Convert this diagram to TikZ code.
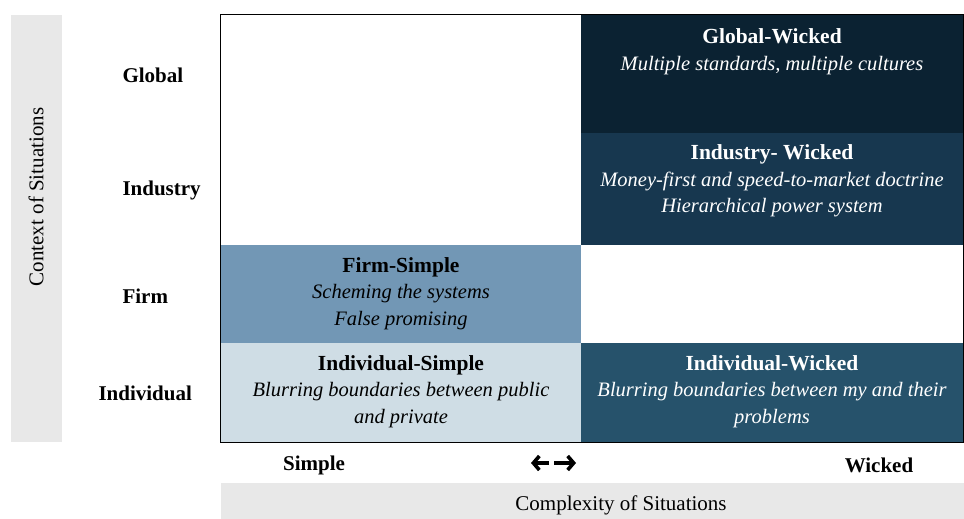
\documentclass[tikz,border=0pt]{standalone}
\usepackage{fontspec}
\setmainfont{Liberation Serif}
\usetikzlibrary{arrows.meta}
\definecolor{gwcol}{HTML}{0B2232}
\definecolor{iwcol}{HTML}{17374F}
\definecolor{fscol}{HTML}{7297B5}
\definecolor{iscol}{HTML}{CFDDE5}
\definecolor{ivcol}{HTML}{26526B}
\definecolor{barcol}{HTML}{E8E8E8}
\newcommand{\celltitle}[1]{{\fontsize{21.5}{26.5}\selectfont\upshape\bfseries #1}}
\begin{document}
\begin{tikzpicture}[x=1pt, y=-1pt]
\tikzstyle{cell} = [inner sep=0, outer sep=0, minimum height=0pt];
\tikzstyle{celltext} = [align=center, font=\fontsize{20.5}{26.5}\selectfont\itshape];
\tikzstyle{rowlabel} = [anchor=west, font=\fontsize{21}{24}\selectfont\bfseries];
\tikzstyle{axis} = [font=\fontsize{21}{24}\selectfont];
\tikzstyle{arr} = [line width=3.6pt, -{Straight Barb[length=6pt, width=14pt]}];
\useasboundingbox (0,0) rectangle (964,519);
\node[cell, fill=barcol, minimum width=51pt, minimum height=427pt] (ybar) at (36,228.5) {};
\node[cell, fill=barcol, minimum width=743pt, minimum height=36pt] (xbar) at (592.5,501) {};
\node[axis, rotate=90] (ytitle) at (36,197) {Context of Situations};
\node[axis] (xtitle) at (621,505) {Complexity of Situations};
\node[rowlabel] (global) at (119,75) {Global};
\node[rowlabel] (industry) at (119,190) {Industry};
\node[rowlabel] (firm) at (119,296) {Firm};
\node[rowlabel] (individual) at (95,393) {Individual};
\node[cell, fill=gwcol, minimum width=382pt, minimum height=118pt] (gw) at (772,74) {};
\node[cell, fill=iwcol, minimum width=382pt, minimum height=112pt] (iw) at (772,189) {};
\node[cell, fill=fscol, minimum width=361pt, minimum height=98pt] (fs) at (400.5,294) {};
\node[cell, fill=iscol, minimum width=361pt, minimum height=99pt] (is) at (400.5,392.5) {};
\node[cell, fill=ivcol, minimum width=382pt, minimum height=99pt] (ivw) at (772,392.5) {};
\node[draw, line width=1pt, inner sep=0, minimum width=743pt, minimum height=427pt] (frame) at (591.5,228.5) {};
\node[celltext, text=white] (gwt) at (772,51.5) {\celltitle{Global-Wicked}\\Multiple standards, multiple cultures};
\node[celltext, text=white] (iwt) at (772,181) {\celltitle{Industry- Wicked}\\Money-first and speed-to-market doctrine\\Hierarchical power system};
\node[celltext] (fst) at (401,293.5) {\celltitle{Firm-Simple}\\Scheming the systems\\False promising};
\node[celltext] (ist) at (401,391.5) {\celltitle{Individual-Simple}\\Blurring boundaries between public\\and private};
\node[celltext, text=white] (ivwt) at (772,391.5) {\celltitle{Individual-Wicked}\\Blurring boundaries between my and their\\problems};
\node[rowlabel, anchor=center] (simple) at (314,465) {Simple};
\node[rowlabel, anchor=center] (wicked) at (879,465) {Wicked};
\coordinate (lmid) at (549,463);
\coordinate (lend) at (531,463);
\coordinate (rmid) at (554,463);
\coordinate (rend) at (576,463);
\draw[arr] (lmid) -- (lend);
\draw[arr] (rmid) -- (rend);
\end{tikzpicture}
\end{document}
